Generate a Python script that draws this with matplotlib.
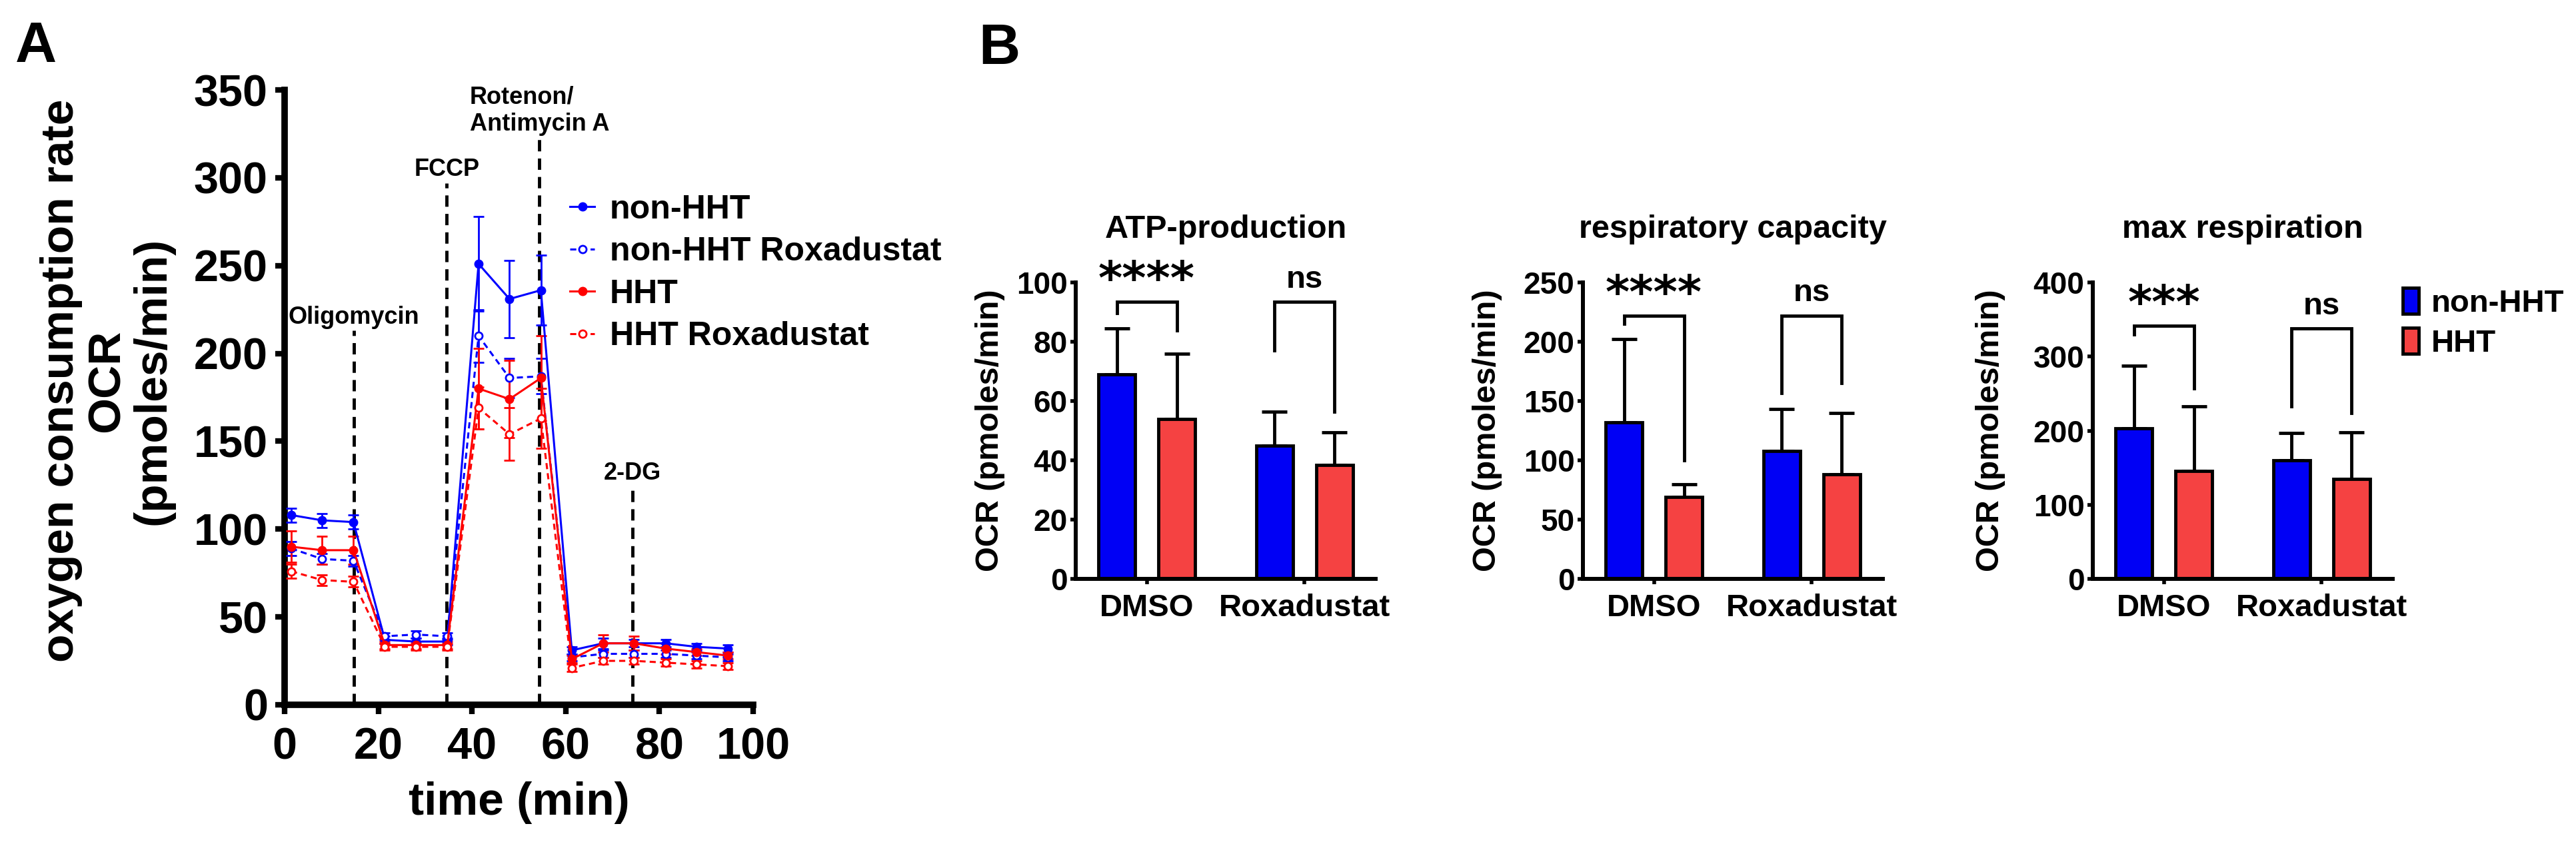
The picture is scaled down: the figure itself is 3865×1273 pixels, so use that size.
import numpy as np
import matplotlib
matplotlib.use('Agg')
import matplotlib.pyplot as plt

plt.rcParams['font.family'] = ['Liberation Sans', 'DejaVu Sans']
plt.rcParams['font.weight'] = 'bold'
plt.rcParams['axes.labelweight'] = 'bold'

# ---- panel A: Seahorse trace ----
times = [1.4, 8.0, 14.7, 21.4, 28.0, 34.7, 41.4, 48.0, 54.7, 61.3, 68.0, 74.6, 81.3, 87.9, 94.6]
non_hht = [108, 105, 104, 37, 36, 36, 251, 231, 236, 31, 35, 35, 35, 33, 32]
non_hht_err = [4, 4, 4, 2, 2, 2, 27, 22, 20, 2, 3, 2, 2, 2, 2]
non_hht_rox = [89, 83, 82, 39, 40, 39, 210, 186, 187, 27, 29, 29, 29, 28, 27]
non_hht_rox_err = [4, 3, 3, 2, 2, 2, 15, 11, 10, 2, 2, 2, 2, 2, 2]
hht = [90, 88, 88, 34, 34, 34, 180, 174, 186, 26, 35, 35, 32, 30, 28]
hht_err = [9, 8, 8, 2, 2, 2, 23, 22, 24, 2, 5, 4, 3, 2, 2]
hht_rox = [76, 71, 70, 33, 33, 33, 169, 154, 163, 21, 25, 25, 24, 23, 22]
hht_rox_err = [4, 3, 3, 2, 2, 2, 12, 15, 17, 2, 2, 2, 2, 2, 2]

inj_names = ['Oligomycin', 'FCCP', 'Rotenon/\nAntimycin A', '2-DG']
inj_times = [14.8, 34.6, 54.4, 74.3]
inj_tops = [213, 297, 323, 124]

# ---- panel B: bar charts ----
groups = ['DMSO', 'Roxadustat']
titles = ['ATP-production', 'respiratory capacity', 'max respiration']
bar_non = [[69, 45], [132, 108], [203, 160]]
bar_non_sd = [[15.5, 11.5], [70, 35], [85, 37]]
bar_hht = [[54, 38.5], [69, 88], [146, 135]]
bar_hht_sd = [[22, 11], [11, 52], [87, 63]]
ymaxes = [100, 250, 400]
ysteps = [20, 50, 100]
# bracket: (top, left leg end, right leg end, label)
brackets = [
    [(93.5, 89.7, 83.8, '****'), (93.5, 77, 56.5, 'ns')],
    [(222, 215, 100, '****'), (222, 157, 165, 'ns')],
    [(342, 330, 257, '***'), (338, 233, 224, 'ns')],
]

W, H = 3866, 1273
fig = plt.figure(figsize=(W / 100, H / 100), dpi=100)


def box(l, t, r, b):
    return [l / W, 1 - b / H, (r - l) / W, (b - t) / H]


blue = '#0000FF'
red = '#FF0000'

ax = fig.add_axes(box(427, 135, 1130, 1058))
series = [
    (non_hht, non_hht_err, blue, '-', blue, 'non-HHT'),
    (non_hht_rox, non_hht_rox_err, blue, '--', 'white', 'non-HHT Roxadustat'),
    (hht, hht_err, red, '-', red, 'HHT'),
    (hht_rox, hht_rox_err, red, '--', 'white', 'HHT Roxadustat'),
]
handles, labels = [], []
for vals, err, col, ls, fc, lab in series:
    c = ax.errorbar(times, vals, yerr=err, color=col, ls=ls, lw=2.2, marker='o', ms=8,
                    mfc=fc, mec=col, mew=2, capsize=6, elinewidth=2, capthick=2,
                    zorder=3)
    if ls == '--':
        c[0].set_dashes((3, 2))
    handles.append(c[0])
    labels.append(lab)

for name, t, top in zip(inj_names, inj_times, inj_tops):
    ax.plot([t, t], [0, top], color='black', lw=3.5, dashes=(3.5, 2.2), zorder=2)
    ax.text(t, top + 4, name, ha='center', va='baseline', fontsize=26,
            multialignment='left')

ax.set_xlim(0, 100)
ax.set_ylim(0, 350)
ax.set_xticks(np.arange(0, 101, 20))
ax.set_yticks(np.arange(0, 351, 50))
for s in ['top', 'right']:
    ax.spines[s].set_visible(False)
for s in ['left', 'bottom']:
    ax.spines[s].set_linewidth(7)
ax.tick_params(width=6, length=10, labelsize=48, pad=8)
ax.tick_params(axis='x', pad=14)
ax.set_xlabel('time (min)', fontsize=50, labelpad=14)
ax.set_ylabel('oxygen consumption rate\nOCR\n(pmoles/min)', fontsize=50, linespacing=1.1)
ax.yaxis.set_label_coords(-0.235, 0.527)
ax.legend(handles, labels, loc='upper left', bbox_to_anchor=(855 / W, 1 - 292 / H),
          bbox_transform=fig.transFigure, frameon=False, fontsize=36,
          handlelength=0.75, handletextpad=0.45, labelspacing=0.35, borderpad=0,
          borderaxespad=0)

fig.text(23 / W, 1 - 93 / H, 'A', fontsize=62, fontweight='bold', va='baseline')
fig.text(1468 / W, 1 - 96 / H, 'B', fontsize=62, fontweight='bold', va='baseline')

bar_blue = '#0000F5'
bar_red = '#F54242'
lefts = [1614, 2375, 3140]
label_x = [-0.235, -0.27, -0.29]
x = np.arange(len(groups))
off = 0.19
bw = 0.235
for i in range(3):
    bx = fig.add_axes(box(lefts[i], 424, lefts[i] + 450, 869))
    b1 = bx.bar(x - off, bar_non[i], bw, color=bar_blue, edgecolor='black', lw=3.5,
                label='non-HHT', zorder=2)
    b2 = bx.bar(x + off, bar_hht[i], bw, color=bar_red, edgecolor='black', lw=3.5,
                label='HHT', zorder=2)
    bx.errorbar(x - off, bar_non[i], yerr=[[0, 0], bar_non_sd[i]], fmt='none',
                ecolor='black', elinewidth=3.5, capsize=14, capthick=3.5, zorder=1)
    bx.errorbar(x + off, bar_hht[i], yerr=[[0, 0], bar_hht_sd[i]], fmt='none',
                ecolor='black', elinewidth=3.5, capsize=14, capthick=3.5, zorder=1)
    ym = ymaxes[i]
    for g, (top, l_end, r_end, lab) in enumerate(brackets[i]):
        xl, xr = g - off, g + off
        bx.plot([xl, xl, xr, xr], [l_end, top, top, r_end], color='black', lw=3.5,
                clip_on=False, solid_joinstyle='miter')
        if lab == 'ns':
            bx.text(g, top + ym * 0.075, lab, ha='center', va='center', fontsize=34)
        else:
            bx.text(g, top + ym * 0.07, lab, ha='center', va='center', fontsize=50,
                    family='DejaVu Sans')
    bx.set_xlim(-0.45, 1.45)
    bx.set_ylim(0, ym)
    bx.set_yticks(np.arange(0, ym + 1, ysteps[i]))
    bx.set_xticks(x)
    bx.set_xticklabels(groups)
    for s in ['top', 'right']:
        bx.spines[s].set_visible(False)
    for s in ['left', 'bottom']:
        bx.spines[s].set_linewidth(4.3)
    bx.tick_params(width=4, length=6, labelsize=33, pad=3)
    bx.tick_params(axis='x', labelsize=34, pad=10)
    bx.set_ylabel('OCR (pmoles/min)', fontsize=35)
    bx.yaxis.set_label_coords(label_x[i], 0.5)
    bx.text(0.5, 1.178, titles[i], transform=bx.transAxes, ha='center', va='center',
            fontsize=35)
    if i == 2:
        bx.legend(handles=[b1, b2], loc='upper left',
                  bbox_to_anchor=(3605 / W, 1 - 432 / H), bbox_transform=fig.transFigure,
                  frameon=False, fontsize=34, handlelength=0.5, handleheight=0.9,
                  handletextpad=0.4, labelspacing=0.3, borderpad=0, borderaxespad=0)

fig.savefig('out.png', dpi=100)
